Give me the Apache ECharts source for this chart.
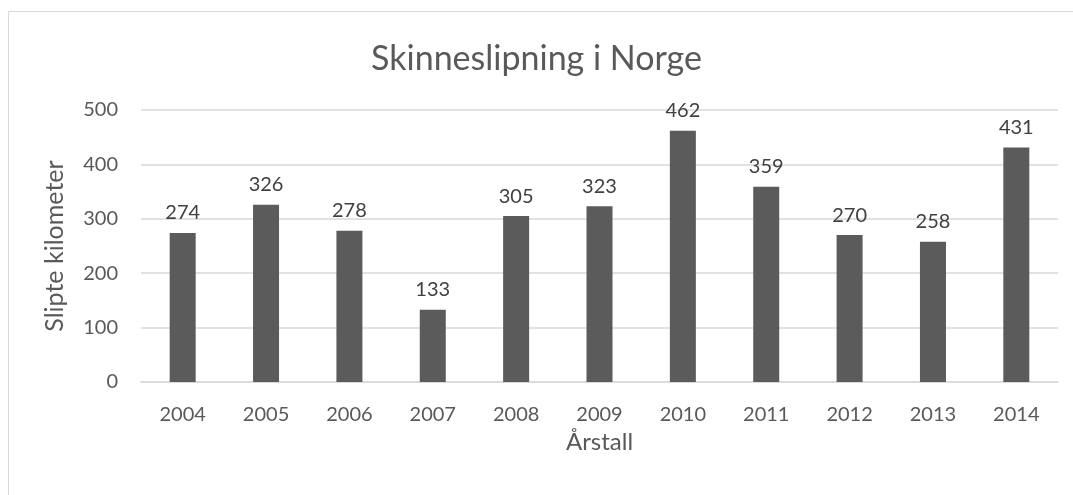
<!DOCTYPE html>
<html>
<head>
<meta charset="utf-8">
<script src="https://cdn.jsdelivr.net/npm/echarts@6/dist/echarts.min.js"></script>
<style>
  html, body { margin: 0; padding: 0; background: #fff; }
  #frame { position: absolute; left: 8px; top: 11px; width: 1100px; height: 520px; border: 1px solid #d9d9d9; }
  #main { position: absolute; left: 0; top: 0; width: 1073px; height: 495px; }
</style>
</head>
<body>
<div id="frame"></div>
<div id="main"></div>
<script>
// data
var years = ['2004', '2005', '2006', '2007', '2008', '2009', '2010', '2011', '2012', '2013', '2014'];
var kilometers = [274, 326, 278, 133, 305, 323, 462, 359, 270, 258, 431];
var yTicks = [0, 100, 200, 300, 400, 500];

var font = 'Lato, "Open Sans", sans-serif';
var chart = echarts.init(document.getElementById('main'), null, { width: 1073, height: 495 });

var option = {
  backgroundColor: 'transparent',
  animation: false,
  title: {
    text: 'Skinneslipning i Norge',
    left: 'center',
    top: 37,
    textStyle: { fontFamily: font, fontSize: 34, fontWeight: 'normal', color: '#595959' }
  },
  grid: { left: 141, right: 15, top: 110, bottom: 113 },
  xAxis: {
    type: 'category',
    data: years,
    name: 'Årstall',
    nameLocation: 'middle',
    nameGap: 46,
    nameTextStyle: { fontFamily: font, fontSize: 24, color: '#595959' },
    axisLine: { lineStyle: { color: '#d9d9d9', width: 1.5 } },
    axisTick: { show: false },
    axisLabel: { fontFamily: font, fontSize: 20, color: '#595959', margin: 23 }
  },
  yAxis: {
    type: 'value',
    min: yTicks[0],
    max: yTicks[yTicks.length - 1],
    interval: 100,
    name: 'Slipte kilometer',
    nameLocation: 'middle',
    nameGap: 74,
    nameTextStyle: { fontFamily: font, fontSize: 25, color: '#595959' },
    axisLine: { show: false },
    axisTick: { show: false },
    axisLabel: { fontFamily: font, fontSize: 20, color: '#595959', margin: 23 },
    splitLine: { lineStyle: { color: '#d9d9d9', width: 1.5 } }
  },
  series: [{
    type: 'bar',
    data: kilometers,
    barWidth: 26,
    itemStyle: { color: '#5b5b5b' },
    label: {
      show: true,
      position: 'top',
      distance: 10,
      fontFamily: font,
      fontSize: 20,
      color: '#404040'
    }
  }]
};
chart.setOption(option);
</script>
</body>
</html>
